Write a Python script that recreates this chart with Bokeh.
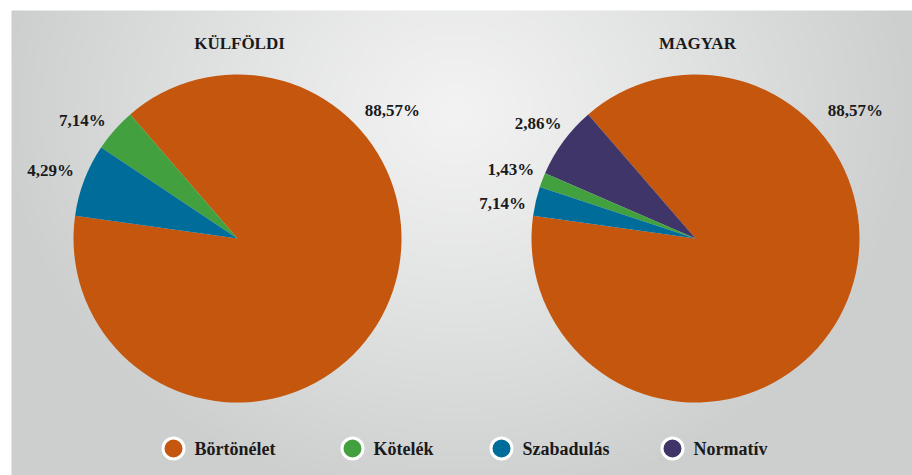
import numpy as np
from bokeh.plotting import figure
from bokeh.models import Range1d
from bokeh.embed import file_html
from bokeh.resources import INLINE
from bokeh.core.properties import value

# ---------------- data ----------------
categories = ["Börtönélet", "Kötelék", "Szabadulás", "Normatív"]
colors = ["#C4570D", "#43A03F", "#006C9A", "#3F3569"]

chart_titles = ["KÜLFÖLDI", "MAGYAR"]
kulfoldi_values = [88.57, 4.29, 7.14, 0.0]
magyar_values = [88.57, 1.43, 2.86, 7.14]
# data-label texts as printed next to each slice (same category order)
kulfoldi_labels = ["88,57%", "7,14%", "4,29%", ""]
magyar_labels = ["88,57%", "1,43%", "7,14%", "2,86%"]

# ---------------- layout ----------------
W, H = 912, 475
X0, Y0 = 0, 0
FONT = "Liberation Serif"
TEXT_COLOR = "#1a1a1a"
START_ANGLE = 172.0                # degrees, slices drawn counter-clockwise
SLICE_ORDER = [0, 3, 1, 2]         # Börtönélet, Normatív, Kötelék, Szabadulás
RADIUS = 164
centers = [(237, 238), (695, 238)]
# label placement (angle in degrees, distance from centre) per category
label_pos = [
    {0: (39.6, 201), 1: (142.7, 195), 2: (160.0, 199)},
    {0: (38.7, 205), 3: (143.8, 195), 1: (159.5, 197), 2: (169.7, 196)},
]
legend_x = [173, 352, 501, 672]
legend_y = 448

p = figure(width=W, height=H, output_backend="svg", toolbar_location=None,
           x_range=Range1d(X0, X0 + W), y_range=Range1d(-(Y0 + H), -Y0),
           x_axis_type=None, y_axis_type=None, min_border=0,
           background_fill_color="white", border_fill_color="white")
p.grid.visible = False
p.outline_line_color = None

# background gradient panel
gx0, gy0, gx1, gy1 = 11, 10, 912, 475
step = 3
nx = (gx1 - gx0) // step + 1
ny = (gy1 - gy0) // step + 1
xs = gx0 + np.arange(nx) * step
ys = gy0 + np.arange(ny) * step
XX, YY = np.meshgrid(xs, ys)
t = np.sqrt(((XX - 456) / 460.0) ** 2 + ((YY - 110) / 400.0) ** 2)
t = np.clip(t, 0, 1) ** 1.1
c0 = np.array([243, 243, 243])
c1 = np.array([205, 207, 207])
rgb = c0[None, None, :] * (1 - t[..., None]) + c1[None, None, :] * t[..., None]
img = np.empty((ny, nx), dtype=np.uint32)
view = img.view(dtype=np.uint8).reshape((ny, nx, 4))
view[..., 0] = rgb[..., 0].astype(np.uint8)
view[..., 1] = rgb[..., 1].astype(np.uint8)
view[..., 2] = rgb[..., 2].astype(np.uint8)
view[..., 3] = 255
img = img[::-1]  # image rows go bottom->top
p.image_rgba(image=[img], x=gx0, y=-gy1, dw=gx1 - gx0, dh=gy1 - gy0)

all_values = [kulfoldi_values, magyar_values]
all_labels = [kulfoldi_labels, magyar_labels]

for ci, (cx, cy) in enumerate(centers):
    vals = all_values[ci]
    total = sum(vals)
    ang = START_ANGLE
    starts, ends, cols = [], [], []
    for k in SLICE_ORDER:
        if vals[k] <= 0:
            continue
        span = vals[k] / total * 360.0
        starts.append(np.radians(ang))
        ends.append(np.radians(ang + span))
        cols.append(colors[k])
        ang += span
    p.wedge(x=[cx] * len(starts), y=[-cy] * len(starts), radius=RADIUS,
            start_angle=starts, end_angle=ends,
            fill_color=cols, line_color=None)
    # data labels
    lx, ly, lt = [], [], []
    for k, (a, d) in label_pos[ci].items():
        lx.append(cx + d * np.cos(np.radians(a)))
        ly.append(-cy + d * np.sin(np.radians(a)))
        lt.append(all_labels[ci][k])
    p.text(x=lx, y=ly, text=lt, text_font=value(FONT), text_font_style="bold",
           text_font_size="17px", text_color=TEXT_COLOR,
           text_align="center", text_baseline="middle")
    # title
    p.text(x=[cx + 2], y=[-43], text=[chart_titles[ci]], text_font=value(FONT),
           text_font_style="bold", text_font_size="17px", text_color=TEXT_COLOR,
           text_align="center", text_baseline="middle")

# legend
p.scatter(x=legend_x, y=[-legend_y] * 4, size=21, marker="circle",
          fill_color=colors, line_color="white", line_width=3)
p.text(x=[v + 21 for v in legend_x], y=[-legend_y] * 4, text=categories,
       text_font=value(FONT), text_font_style="bold", text_font_size="18px",
       text_color=TEXT_COLOR, text_align="left", text_baseline="middle")

open("out.html", "w").write(file_html(p, INLINE))
